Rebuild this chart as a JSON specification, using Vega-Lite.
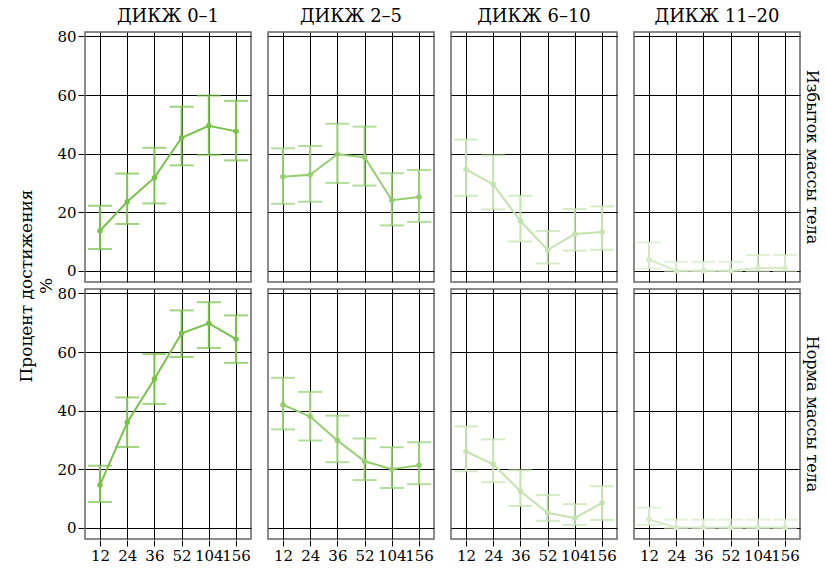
{
  "$schema": "https://vega.github.io/schema/vega-lite/v6.json",
  "padding": {"left": 17, "top": 8, "right": 0, "bottom": 0},
  "background": "white",
  "config": {
    "font": "DejaVu Serif",
    "view": {"stroke": "#666666", "strokeWidth": 1.5},
    "axis": {
      "grid": true, "gridColor": "#000000", "gridOpacity": 1, "gridWidth": 1,
      "domain": false, "tickColor": "#000000", "tickSize": 6,
      "labelFont": "DejaVu Serif", "titleFont": "DejaVu Serif",
      "labelFontSize": 15, "labelColor": "#000000", "labelPadding": 2,
      "titleFontSize": 17, "titleFontWeight": "normal", "titleColor": "#000000"
    },
    "header": {"labelFontSize": 18, "labelColor": "#000000", "labelFont": "DejaVu Serif",
      "titleFont": "DejaVu Serif", "titleFontSize": 17, "titleFontWeight": "normal", "titleColor": "#000000"}
  },
  "data": {"values": [
    {"g": "Избыток массы тела", "d": "ДИКЖ 0–1", "w": 12, "v": 13.7, "lo": 7.5, "hi": 22.2},
    {"g": "Избыток массы тела", "d": "ДИКЖ 0–1", "w": 24, "v": 23.6, "lo": 16, "hi": 33.2},
    {"g": "Избыток массы тела", "d": "ДИКЖ 0–1", "w": 36, "v": 31.8, "lo": 23, "hi": 42},
    {"g": "Избыток массы тела", "d": "ДИКЖ 0–1", "w": 52, "v": 45.4, "lo": 36, "hi": 56},
    {"g": "Избыток массы тела", "d": "ДИКЖ 0–1", "w": 104, "v": 49.5, "lo": 39.6, "hi": 59.8},
    {"g": "Избыток массы тела", "d": "ДИКЖ 0–1", "w": 156, "v": 47.6, "lo": 37.7, "hi": 58},
    {"g": "Избыток массы тела", "d": "ДИКЖ 2–5", "w": 12, "v": 32.1, "lo": 22.9, "hi": 41.8},
    {"g": "Избыток массы тела", "d": "ДИКЖ 2–5", "w": 24, "v": 32.8, "lo": 23.6, "hi": 42.6},
    {"g": "Избыток массы тела", "d": "ДИКЖ 2–5", "w": 36, "v": 39.8, "lo": 30, "hi": 50.2},
    {"g": "Избыток массы тела", "d": "ДИКЖ 2–5", "w": 52, "v": 38.8, "lo": 29.1, "hi": 49.2},
    {"g": "Избыток массы тела", "d": "ДИКЖ 2–5", "w": 104, "v": 24.1, "lo": 15.5, "hi": 33.3},
    {"g": "Избыток массы тела", "d": "ДИКЖ 2–5", "w": 156, "v": 25.2, "lo": 16.7, "hi": 34.4},
    {"g": "Избыток массы тела", "d": "ДИКЖ 6–10", "w": 12, "v": 34.6, "lo": 25.6, "hi": 44.8},
    {"g": "Избыток массы тела", "d": "ДИКЖ 6–10", "w": 24, "v": 29.5, "lo": 21, "hi": 39.4},
    {"g": "Избыток массы тела", "d": "ДИКЖ 6–10", "w": 36, "v": 17, "lo": 10, "hi": 25.6},
    {"g": "Избыток массы тела", "d": "ДИКЖ 6–10", "w": 52, "v": 7.1, "lo": 2.5, "hi": 13.6},
    {"g": "Избыток массы тела", "d": "ДИКЖ 6–10", "w": 104, "v": 12.6, "lo": 6.9, "hi": 21.1},
    {"g": "Избыток массы тела", "d": "ДИКЖ 6–10", "w": 156, "v": 13.3, "lo": 7.2, "hi": 22},
    {"g": "Избыток массы тела", "d": "ДИКЖ 11–20", "w": 12, "v": 3.9, "lo": 0.8, "hi": 9.7},
    {"g": "Избыток массы тела", "d": "ДИКЖ 11–20", "w": 24, "v": 0, "lo": 0, "hi": 3.1},
    {"g": "Избыток массы тела", "d": "ДИКЖ 11–20", "w": 36, "v": 0, "lo": 0, "hi": 3.1},
    {"g": "Избыток массы тела", "d": "ДИКЖ 11–20", "w": 52, "v": 0, "lo": 0, "hi": 3.1},
    {"g": "Избыток массы тела", "d": "ДИКЖ 11–20", "w": 104, "v": 1, "lo": 0, "hi": 5.4},
    {"g": "Избыток массы тела", "d": "ДИКЖ 11–20", "w": 156, "v": 1, "lo": 0, "hi": 5.4},
    {"g": "Норма массы тела", "d": "ДИКЖ 0–1", "w": 12, "v": 14.6, "lo": 8.8, "hi": 21.2},
    {"g": "Норма массы тела", "d": "ДИКЖ 0–1", "w": 24, "v": 36, "lo": 27.6, "hi": 44.5},
    {"g": "Норма массы тела", "d": "ДИКЖ 0–1", "w": 36, "v": 50.8, "lo": 42.3, "hi": 59.3},
    {"g": "Норма массы тела", "d": "ДИКЖ 0–1", "w": 52, "v": 66.4, "lo": 58.3, "hi": 74.2},
    {"g": "Норма массы тела", "d": "ДИКЖ 0–1", "w": 104, "v": 69.8, "lo": 61.4, "hi": 77},
    {"g": "Норма массы тела", "d": "ДИКЖ 0–1", "w": 156, "v": 64.4, "lo": 56.3, "hi": 72.5},
    {"g": "Норма массы тела", "d": "ДИКЖ 2–5", "w": 12, "v": 42, "lo": 33.6, "hi": 51.2},
    {"g": "Норма массы тела", "d": "ДИКЖ 2–5", "w": 24, "v": 38, "lo": 29.8, "hi": 46.4},
    {"g": "Норма массы тела", "d": "ДИКЖ 2–5", "w": 36, "v": 29.8, "lo": 22.4, "hi": 38.3},
    {"g": "Норма массы тела", "d": "ДИКЖ 2–5", "w": 52, "v": 22.7, "lo": 16.3, "hi": 30.5},
    {"g": "Норма массы тела", "d": "ДИКЖ 2–5", "w": 104, "v": 20, "lo": 13.6, "hi": 27.5},
    {"g": "Норма массы тела", "d": "ДИКЖ 2–5", "w": 156, "v": 21.4, "lo": 14.9, "hi": 29.2},
    {"g": "Норма массы тела", "d": "ДИКЖ 6–10", "w": 12, "v": 26.1, "lo": 19.3, "hi": 34.6},
    {"g": "Норма массы тела", "d": "ДИКЖ 6–10", "w": 24, "v": 21.7, "lo": 15.6, "hi": 30.2},
    {"g": "Норма массы тела", "d": "ДИКЖ 6–10", "w": 36, "v": 12.5, "lo": 7.5, "hi": 19.7},
    {"g": "Норма массы тела", "d": "ДИКЖ 6–10", "w": 52, "v": 5.1, "lo": 2.4, "hi": 11.2},
    {"g": "Норма массы тела", "d": "ДИКЖ 6–10", "w": 104, "v": 3.4, "lo": 1, "hi": 8.1},
    {"g": "Норма массы тела", "d": "ДИКЖ 6–10", "w": 156, "v": 8.5, "lo": 2.7, "hi": 14.2},
    {"g": "Норма массы тела", "d": "ДИКЖ 11–20", "w": 12, "v": 2.9, "lo": 1, "hi": 6.9},
    {"g": "Норма массы тела", "d": "ДИКЖ 11–20", "w": 24, "v": 0.1, "lo": 0, "hi": 2.8},
    {"g": "Норма массы тела", "d": "ДИКЖ 11–20", "w": 36, "v": 0.1, "lo": 0, "hi": 2.8},
    {"g": "Норма массы тела", "d": "ДИКЖ 11–20", "w": 52, "v": 0.1, "lo": 0, "hi": 2.8},
    {"g": "Норма массы тела", "d": "ДИКЖ 11–20", "w": 104, "v": 0.1, "lo": 0, "hi": 2.8},
    {"g": "Норма массы тела", "d": "ДИКЖ 11–20", "w": 156, "v": 0.1, "lo": 0, "hi": 2.8}
  ]},
  "facet": {
    "row": {"field": "g", "type": "nominal", "sort": ["Избыток массы тела", "Норма массы тела"],
      "title": ["Процент достижения", "%"],
      "header": {"labelOrient": "right", "labelAngle": 90, "labelPadding": 3, "labelFontSize": 16,
        "titleOrient": "left", "titleAngle": -90, "titlePadding": -27, "titleLineHeight": 20}},
    "column": {"field": "d", "type": "nominal", "sort": ["ДИКЖ 0–1", "ДИКЖ 2–5", "ДИКЖ 6–10", "ДИКЖ 11–20"],
      "title": null,
      "header": {"labelOrient": "top", "labelPadding": 5}}
  },
  "spacing": {"row": 5, "column": 15},
  "spec": {
    "width": 166,
    "height": 250,
    "encoding": {
      "x": {"field": "w", "type": "ordinal", "title": null,
        "scale": {"type": "point", "padding": 0.55},
        "axis": {"labelAngle": 0, "grid": true}},
      "color": {"field": "d", "type": "nominal", "legend": null,
        "scale": {"domain": ["ДИКЖ 0–1", "ДИКЖ 2–5", "ДИКЖ 6–10", "ДИКЖ 11–20"],
          "range": ["#78c24a", "#94ce70", "#c3e2ad", "#d6eac8"]}}
    },
    "layer": [
      {"mark": {"type": "rule", "strokeWidth": 2},
        "encoding": {
          "y": {"field": "lo", "type": "quantitative", "title": null,
            "scale": {"domain": [-3.8, 81.5], "nice": false, "zero": false},
            "axis": {"values": [0, 20, 40, 60, 80]}},
          "y2": {"field": "hi"}}},
      {"mark": {"type": "tick", "size": 24, "thickness": 2, "orient": "horizontal"},
        "encoding": {"y": {"field": "lo", "type": "quantitative"}}},
      {"mark": {"type": "tick", "size": 24, "thickness": 2, "orient": "horizontal"},
        "encoding": {"y": {"field": "hi", "type": "quantitative"}}},
      {"mark": {"type": "line", "strokeWidth": 2},
        "encoding": {"y": {"field": "v", "type": "quantitative"}}},
      {"mark": {"type": "point", "filled": true, "size": 30, "opacity": 1},
        "encoding": {"y": {"field": "v", "type": "quantitative"}}}
    ]
  }
}
